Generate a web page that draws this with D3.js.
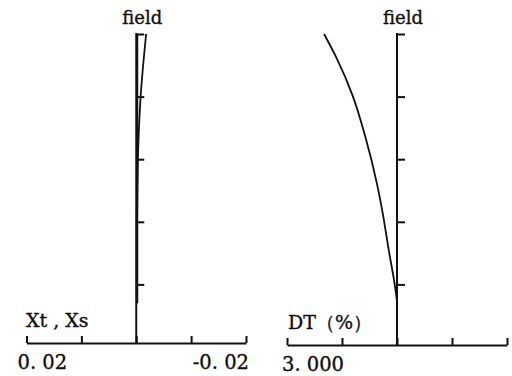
<!DOCTYPE html>
<html>
<head>
<meta charset="utf-8">
<script src="https://cdn.jsdelivr.net/npm/d3@7"></script>
<style>
  body { margin: 0; background: #fff; }
  text { font-family: "DejaVu Serif", "Liberation Serif", serif; fill: #111; stroke: #111; stroke-width: 0.35px; }
</style>
</head>
<body>
<div id="chart"></div>
<script>
// depth ticks on the "field" axis (top = 0)
const depthTicks = [0, 1, 2, 3, 4];

// left panel: Xt, Xs
const xsTicks = [0.02, 0.01, 0, -0.01, -0.02];
const xtDepth = [0, 1, 1.5, 2, 3, 4.3];
const xtVals = [-0.0018, -0.0008, -0.0005, -0.0003, -0.0002, -0.0002];
const xsDepth = [0, 1, 2, 3, 4.3];
const xsVals = [-0.0002, -0.0002, -0.0002, -0.0001, -0.0001];

// right panel: DT(%)
const dtTicks = [3, 1.5, 0, -1.5, -3];
const dtDepth = [0, 0.37, 1.0, 1.65, 2.41, 2.83, 3.47, 4.01, 4.27];
const dtVals = [1.99, 1.66, 1.2, 0.86, 0.54, 0.4, 0.22, 0.06, 0.0];

const w = 512, h = 376;

const svg = d3.select("#chart").append("svg")
  .attr("width", w)
  .attr("height", h);

function panel(opt) {
  const g = svg.append("g");

  const x = d3.scaleLinear().domain(opt.xDomain).range(opt.xRange);
  const y = d3.scaleLinear().domain([0, 5]).range([34, 347]);

  // x axis, ticks pointing up
  const xAxis = d3.axisBottom(x)
    .tickValues(opt.xTicks)
    .tickSizeInner(-7)
    .tickSizeOuter(0)
    .tickFormat("");
  const ga = g.append("g")
    .attr("transform", "translate(0," + opt.axisY + ")")
    .call(xAxis);
  ga.selectAll("path, line").attr("stroke", "#111").attr("stroke-width", 2);

  // end labels
  opt.labels.forEach(l => {
    g.append("text")
      .attr("x", x(l.v) + l.dx)
      .attr("y", opt.axisY + 26)
      .attr("text-anchor", l.anchor)
      .style("font-size", "19.5px")
      .text(l.t);
  });

  // vertical "field" axis
  const x0 = x(0);
  g.append("line")
    .attr("x1", x0).attr("x2", x0)
    .attr("y1", y(0) - 1).attr("y2", opt.axisY)
    .attr("stroke", "#111").attr("stroke-width", 2);
  const yAxis = d3.axisRight(y)
    .tickValues(depthTicks)
    .tickSizeInner(8)
    .tickSizeOuter(0)
    .tickFormat("");
  const gy = g.append("g")
    .attr("transform", "translate(" + x0 + ",0)")
    .call(yAxis);
  gy.select(".domain").remove();
  gy.selectAll("line").attr("stroke", "#111").attr("stroke-width", 2);

  g.append("text")
    .attr("x", x0 + 6)
    .attr("y", 24)
    .attr("text-anchor", "middle")
    .style("font-size", "18px")
    .text("field");

  g.append("text")
    .attr("x", opt.titleX)
    .attr("y", opt.axisY - 16)
    .style("font-size", opt.titleSize)
    .text(opt.title);

  const line = d3.line()
    .x(d => x(d[1]))
    .y(d => y(d[0]))
    .curve(d3.curveMonotoneY);

  opt.series.forEach(s => {
    g.append("path")
      .datum(d3.zip(s.depth, s.vals))
      .attr("d", line)
      .attr("fill", "none")
      .attr("stroke", "#111")
      .attr("stroke-width", s.sw);
  });
}

panel({
  xDomain: [0.02, -0.02], xRange: [26.5, 246], xTicks: xsTicks, axisY: 343,
  labels: [{ v: 0.02, t: "0. 02", anchor: "start", dx: -9 },
           { v: -0.02, t: "-0. 02", anchor: "end", dx: 3 }],
  title: "Xt , Xs", titleX: 26, titleSize: "19px",
  series: [{ depth: xtDepth, vals: xtVals, sw: 1.8 },
           { depth: xsDepth, vals: xsVals, sw: 1.8 }]
});

panel({
  xDomain: [3, -3], xRange: [287, 507], xTicks: dtTicks, axisY: 345,
  labels: [{ v: 3, t: "3. 000", anchor: "start", dx: -5 }],
  title: "DT（%）", titleX: 288, titleSize: "19px",
  series: [{ depth: dtDepth, vals: dtVals, sw: 1.8 }]
});
</script>
</body>
</html>
